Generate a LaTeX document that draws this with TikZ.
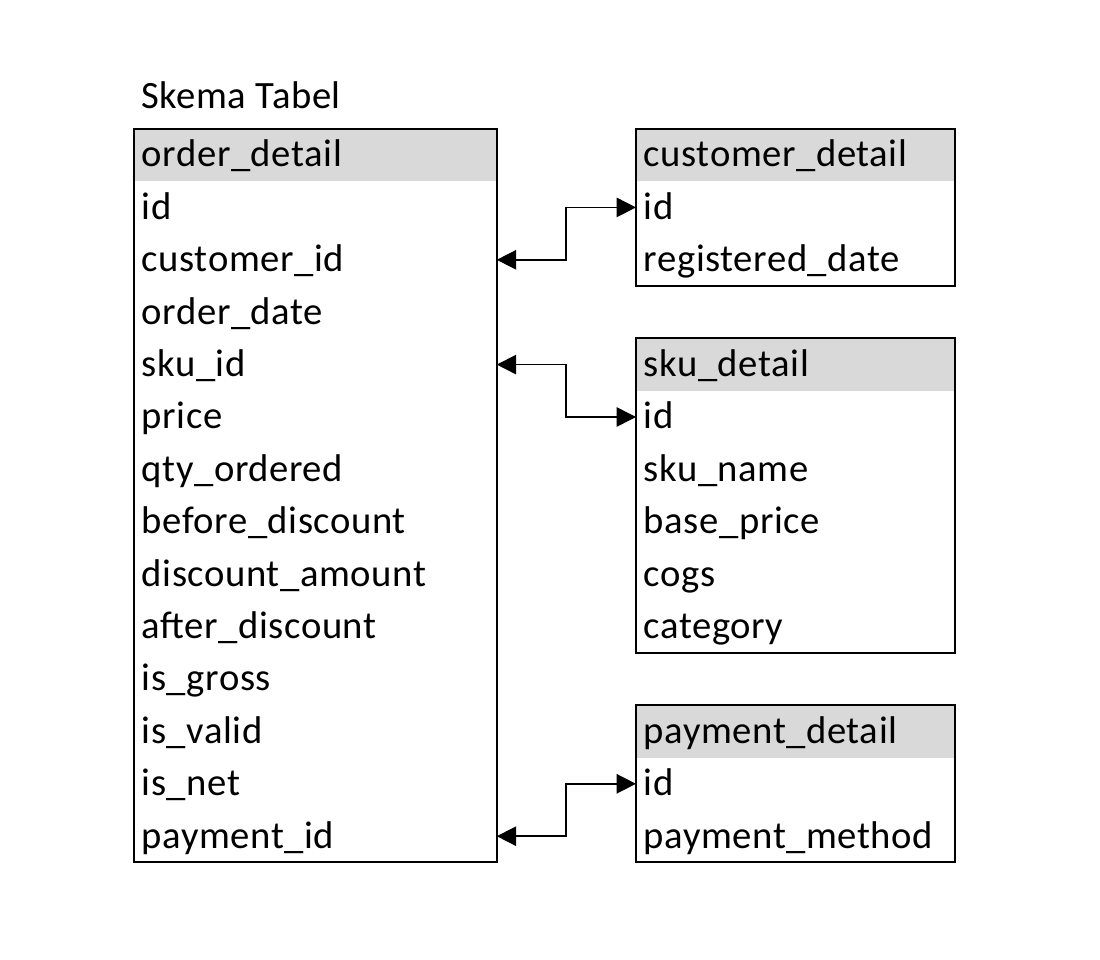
\documentclass[tikz,border=0pt]{standalone}
\usepackage{fontspec}
\setmainfont[LetterSpace=1.5]{Carlito}
\usetikzlibrary{arrows.meta}

\definecolor{hdrgray}{HTML}{D9D9D9}

\tikzset{
  field/.style={anchor=west, inner xsep=4.5pt, inner ysep=0pt, outer sep=0pt,
    minimum height=1.048cm, text height=17pt, text depth=3.5pt, align=left,
    font=\fontsize{22}{26}\selectfont},
  odrow/.style={field, text width=6.94cm},
  siderow/.style={field, text width=6.06cm},
  hdr/.style={fill=hdrgray},
  tbl/.style={draw=black, line width=1.1pt},
  link/.style={{Triangle[length=11pt,width=11pt]}-{Triangle[length=11pt,width=11pt]}, line width=0.9pt}
}

\begin{document}
\begin{tikzpicture}[x=0.02cm, y=-0.02cm]
  \useasboundingbox (0,0) rectangle (1100,960);

  % Judul
  \node[anchor=west, inner sep=0pt, font=\fontsize{22}{26}\selectfont] (title) at (141,95) {Skema Tabel};

  % Tabel order_detail
  \node[odrow, hdr] (od0) at (134,155) {order\_detail};
  \foreach \f [count=\i from 1] in {id, customer\_id, order\_date, sku\_id, price,
      qty\_ordered, before\_discount, discount\_amount, after\_discount,
      is\_gross, is\_valid, is\_net, payment\_id}
    \node[odrow] (od\i) at (134,{155+52.4*\i}) {\f};
  \draw[tbl] (od0.north west) rectangle (od13.south east);

  % Tabel customer_detail
  \node[siderow, hdr] (cd0) at (636,155) {customer\_detail};
  \node[siderow] (cd1) at (636,207.4) {id};
  \node[siderow] (cd2) at (636,259.8) {registered\_date};
  \draw[tbl] (cd0.north west) rectangle (cd2.south east);

  % Tabel sku_detail
  \node[siderow, hdr] (sd0) at (636,364.6) {sku\_detail};
  \foreach \f [count=\i from 1] in {id, sku\_name, base\_price, cogs, category}
    \node[siderow] (sd\i) at (636,{364.6+52.4*\i}) {\f};
  \draw[tbl] (sd0.north west) rectangle (sd5.south east);

  % Tabel payment_detail
  \node[siderow, hdr] (pd0) at (636,731.4) {payment\_detail};
  \node[siderow] (pd1) at (636,783.8) {id};
  \node[siderow] (pd2) at (636,836.2) {payment\_method};
  \draw[tbl] (pd0.north west) rectangle (pd2.south east);

  % Relasi
  \draw[link] (od2.east) -- ++(69,0) |- (cd1.west);
  \draw[link] (od4.east) -- ++(69,0) |- (sd1.west);
  \draw[link] (od13.east) -- ++(69,0) |- (pd1.west);
\end{tikzpicture}
\end{document}
